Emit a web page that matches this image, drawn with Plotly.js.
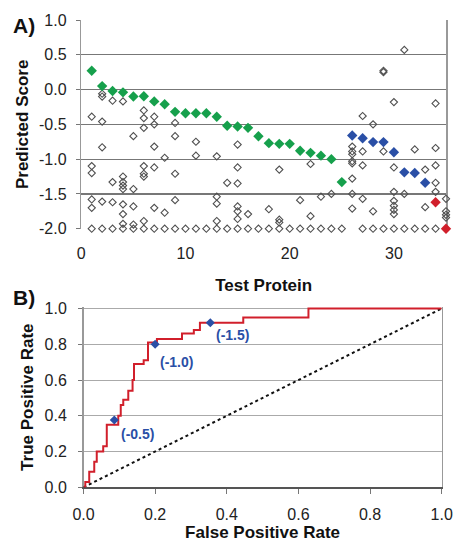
<!DOCTYPE html>
<html>
<head>
<meta charset="utf-8">
<script src="https://cdn.plot.ly/plotly-3.0.1.min.js"></script>
<style>html,body{margin:0;padding:0;background:#fff}#chart{width:456px;height:542px}</style>
</head>
<body>
<div id="chart"></div>
<script>
// Panel A: predicted scores of test proteins
var greenX = [1,2,3,4,5,6,7,8,9,10,11,12,13,14,15,16,17,18,19,20,21,22,23,24,25];
var greenY = [0.27,0.05,-0.02,-0.04,-0.10,-0.095,-0.17,-0.21,-0.32,-0.34,-0.34,-0.34,-0.39,-0.52,-0.53,-0.55,-0.67,-0.77,-0.78,-0.78,-0.88,-0.91,-0.95,-1.00,-1.33];
var blueX = [26,27,28,29,30,31,32,33];
var blueY = [-0.66,-0.70,-0.755,-0.755,-0.90,-1.19,-1.20,-1.34];
var redX = [34,35];
var redY = [-1.62,-2.0];
var otherX = [
 1,1,1,1,1,1,
 2,2,2,2,2,2,
 3,3,3,3,
 4,4,4,4,4,4,4,4,4,
 5,5,5,5,5,
 6,6,6,6,6,6,6,6,
 7,7,7,7,7,7,
 8,8,8,
 9,9,9,9,9,
 10,
 11,11,11,
 12,
 13,13,13,13,13,
 14,14,
 15,15,15,15,15,15,15,
 16,16,
 17,
 18,18,
 19,19,19,19,
 20,
 21,21,
 22,22,22,
 23,23,
 24,24,
 25,
 26,26,26,26,26,26,26,26,
 27,27,27,27,27,
 28,28,28,
 29,29,29,29,
 30,30,30,30,30,30,30,30,
 31,31,31,
 32,32,
 33,33,33,
 34,34,34,34,34,34,
 35,35,35,35];
var otherY = [
 -0.39,-1.10,-1.20,-1.58,-1.70,-2.0,
 -0.06,-0.10,-0.46,-0.83,-1.61,-2.0,
 -0.16,-1.33,-1.62,-2.0,
 -0.17,-1.25,-1.33,-1.38,-1.43,-1.65,-1.79,-1.93,-2.0,
 -0.67,-1.43,-1.68,-1.94,-2.0,
 -0.30,-0.41,-0.55,-1.10,-1.21,-1.25,-1.89,-2.0,
 -0.39,-0.50,-0.82,-1.12,-1.70,-2.0,
 -0.98,-1.77,-2.0,
 -0.48,-0.67,-1.21,-1.59,-2.0,
 -2.0,
 -0.75,-0.95,-2.0,
 -2.0,
 -0.96,-1.54,-1.64,-1.89,-2.0,
 -1.34,-2.0,
 -0.79,-1.12,-1.35,-1.68,-1.75,-1.86,-2.0,
 -1.79,-2.0,
 -2.0,
 -1.72,-2.0,
 -1.15,-1.87,-1.91,-2.0,
 -2.0,
 -1.59,-2.0,
 -1.07,-1.82,-2.0,
 -1.54,-2.0,
 -1.50,-2.0,
 -2.0,
 -0.82,-0.89,-0.93,-1.03,-1.06,-1.28,-1.50,-1.71,
 -0.38,-0.89,-1.09,-1.57,-2.0,
 -0.50,-1.75,-2.0,
 0.25,0.27,-0.89,-2.0,
 -0.18,-1.12,-1.47,-1.60,-1.67,-1.73,-1.79,-2.0,
 0.57,-1.50,-2.0,
 -0.86,-2.0,
 -1.15,-1.69,-2.0,
 -0.20,-0.84,-1.09,-1.34,-1.47,-2.0,
 -1.57,-1.75,-1.80,-1.84];
var scoreTicks = [1.0,0.5,0.0,-0.5,-1.0,-1.5,-2.0];
var proteinTicks = [0,10,20,30];

// Panel B: ROC curve
var rocFPR = [0,0.005,0.016,0.030,0.037,0.055,0.065,0.097,0.104,0.111,0.125,0.137,0.141,0.168,0.180,0.205,0.275,0.308,0.325,0.446,0.628,1.0];
var rocTPR = [0,0.030,0.087,0.143,0.200,0.230,0.350,0.400,0.460,0.490,0.540,0.600,0.690,0.710,0.810,0.830,0.860,0.880,0.920,0.950,1.0,1.0];
var thrFPR = [0.086,0.200,0.354];
var thrTPR = [0.376,0.800,0.920];
var thrLabels = ['(-0.5)','(-1.0)','(-1.5)'];
var diagX = [0,1];
var diagY = [0,1];
var rateTicks = [0.0,0.2,0.4,0.6,0.8,1.0];

var FONT = 'Liberation Sans, Arial, sans-serif';
var GREEN = '#16a04c', BLUE = '#2a4fa6', RED = '#d11f2b';

var traces = [
 {x: otherX, y: otherY, xaxis:'x', yaxis:'y', type:'scatter', mode:'markers', cliponaxis:false,
  marker:{symbol:'diamond-open', size:5.5, color:'#505050', line:{width:1.1, color:'#505050'}}, hoverinfo:'skip'},
 {x: greenX, y: greenY, xaxis:'x', yaxis:'y', type:'scatter', mode:'markers', cliponaxis:false,
  marker:{symbol:'diamond', size:8, color:GREEN}},
 {x: blueX, y: blueY, xaxis:'x', yaxis:'y', type:'scatter', mode:'markers', cliponaxis:false,
  marker:{symbol:'diamond', size:8, color:BLUE}},
 {x: redX, y: redY, xaxis:'x', yaxis:'y', type:'scatter', mode:'markers', cliponaxis:false,
  marker:{symbol:'diamond', size:8, color:RED}},
 {x: diagX, y: diagY, xaxis:'x2', yaxis:'y2', type:'scatter', mode:'lines', cliponaxis:false,
  line:{color:'#111', width:2, dash:'dot'}},
 {x: rocFPR, y: rocTPR, xaxis:'x2', yaxis:'y2', type:'scatter', mode:'lines', cliponaxis:false,
  line:{color:RED, width:2, shape:'hv'}},
 {x: thrFPR, y: thrTPR, xaxis:'x2', yaxis:'y2', type:'scatter', mode:'markers', cliponaxis:false,
  marker:{symbol:'diamond', size:7, color:BLUE}}
];

var tickFont = {family: FONT, size: 16, color:'#222'};
var titleFont = {family: FONT, size: 17, color:'#111', weight:'bold'};

var annotations = [
 {text:'<b>A)</b>', xref:'paper', yref:'paper', x:11/456, y:1-25/542, xanchor:'left', yanchor:'middle', showarrow:false, font:{family:FONT, size:21, color:'#111'}},
 {text:'<b>B)</b>', xref:'paper', yref:'paper', x:11/456, y:1-297/542, xanchor:'left', yanchor:'middle', showarrow:false, font:{family:FONT, size:21, color:'#111'}}
];
var lblDx = [5, 3, 4], lblDy = [14, 18, 12];
for (var i = 0; i < thrLabels.length; i++) {
 annotations.push({text:'<b>'+thrLabels[i]+'</b>', xref:'x2', yref:'y2', x:thrFPR[i], y:thrTPR[i], xanchor:'left', yanchor:'middle',
  xshift:lblDx[i], yshift:-lblDy[i], showarrow:false, font:{family:FONT, size:14, color:BLUE}});
}

// small padding so the ROC line at TPR = 1.0 is not clipped by the plot area
var pad = 0.008;
var pxPerUnitB = 178.8;
var layout = {
 width:456, height:542, margin:{l:0, r:0, t:0, b:0}, showlegend:false,
 paper_bgcolor:'#fff', plot_bgcolor:'#fff',
 xaxis:{domain:[81.3/456, 446/456], anchor:'y', range:[0,35], tickvals:proteinTicks, ticktext:proteinTicks.map(String),
  showgrid:false, zeroline:false, showline:false, ticks:'', ticklabelstandoff:13, tickfont:tickFont, layer:'below traces',
  title:{text:'<b>Test Protein</b>', font:titleFont, standoff:18}},
 yaxis:{domain:[1-228.7/542, 1-20/542], anchor:'x', range:[-2,1], tickvals:scoreTicks, ticktext:scoreTicks.map(function(v){return v.toFixed(1);}),
  showgrid:true, gridcolor:'#777', gridwidth:1.2, zeroline:false, showline:true, linecolor:'#999', linewidth:1.5, mirror:true,
  ticks:'outside', ticklen:4, tickcolor:'#777', ticklabelstandoff:6, tickfont:tickFont, layer:'below traces',
  title:{text:'<b>Predicted Score</b>', font:titleFont, standoff:6}},
 xaxis2:{domain:[83.5/456, 441.7/456], anchor:'y2', range:[0,1], tickvals:rateTicks, ticktext:rateTicks.map(function(v){return v.toFixed(1);}),
  showgrid:false, zeroline:false, showline:true, linecolor:'#555', linewidth:1.5, mirror:false,
  ticks:'outside', ticklen:5, tickcolor:'#777', ticklabelstandoff:7, tickfont:tickFont, layer:'below traces',
  title:{text:'<b>False Positive Rate</b>', font:titleFont, standoff:8}},
 yaxis2:{domain:[1-487.3/542, 1-(308.5-pad*pxPerUnitB)/542], anchor:'x2', range:[0,1+pad], tickvals:rateTicks, ticktext:rateTicks.map(function(v){return v.toFixed(1);}),
  showgrid:true, gridcolor:'#aaaaaa', gridwidth:1, zeroline:false, showline:true, linecolor:'#999', linewidth:1.5, mirror:true,
  ticks:'outside', ticklen:4, tickcolor:'#777', ticklabelstandoff:8, tickfont:tickFont, layer:'below traces',
  title:{text:'<b>True Positive Rate</b>', font:titleFont, standoff:6}},
 annotations: annotations
};

Plotly.newPlot('chart', traces, layout, {displayModeBar:false, staticPlot:true});
</script>
</body>
</html>
